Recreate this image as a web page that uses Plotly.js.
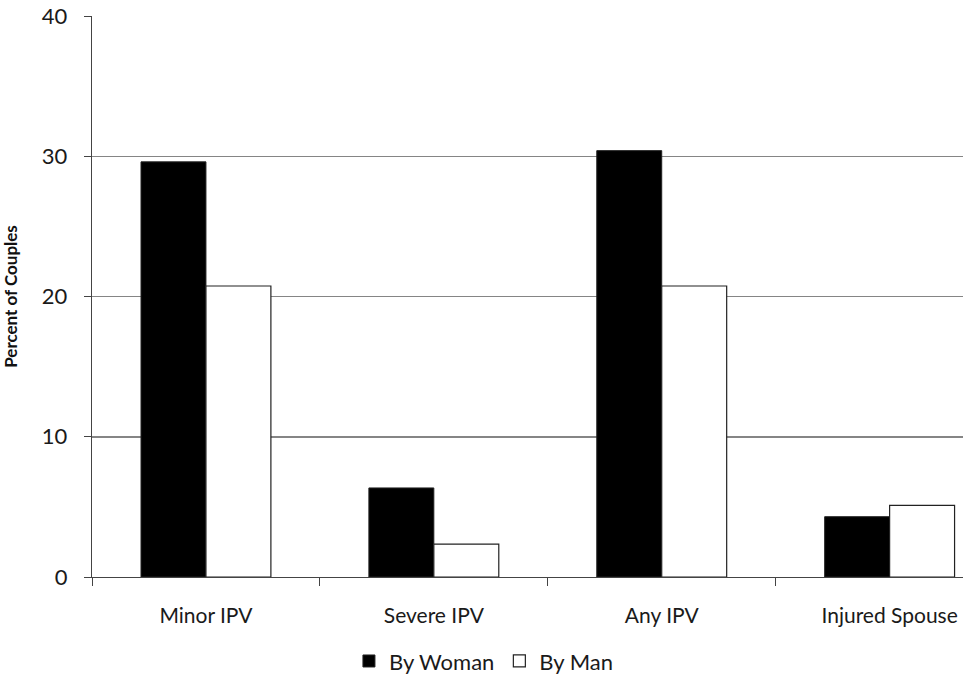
<!DOCTYPE html>
<html><head><meta charset="utf-8">
<script src="https://cdn.plot.ly/plotly-3.0.1.min.js"></script>
<style>html,body{margin:0;padding:0;background:#fff;overflow:hidden}</style>
</head><body>
<div id="chart" style="width:963px;height:676px"></div>
<script>
const categories = ["Minor IPV", "Severe IPV", "Any IPV", "Injured Spouse"];
const byWoman = [29.6, 6.35, 30.4, 4.3];
const byMan = [20.75, 2.35, 20.75, 5.1];
const yTicks = [0, 10, 20, 30, 40];

const fontFam = "Lato, 'Open Sans', sans-serif";
const traces = [
  {type: "bar", name: "By Woman", x: categories, y: byWoman,
   marker: {color: "#000000", line: {color: "#222", width: 1}}},
  {type: "bar", name: "By Man", x: categories, y: byMan,
   marker: {color: "#ffffff", line: {color: "#222", width: 1.2}}}
];
const layout = {
  width: 963, height: 676,
  margin: {l: 92, r: 0, t: 16, b: 99},
  paper_bgcolor: "#fff", plot_bgcolor: "#fff",
  barmode: "group", bargap: 0.43, bargroupgap: 0,
  font: {family: fontFam, color: "#1a1a1a", size: 21},
  xaxis: {
    type: "category", range: [-0.5, 3.322], automargin: false,
    showline: true, linecolor: "#444", linewidth: 1.2,
    ticks: "outside", tickson: "boundaries", ticklen: 8, tickcolor: "#444",
    tickfont: {size: 21, family: fontFam}, ticklabelstandoff: 20,
    showgrid: false, zeroline: false
  },
  yaxis: {
    range: [0, 40], tickvals: yTicks, ticktext: yTicks.map(String), automargin: false,
    showline: true, linecolor: "#444", linewidth: 1.2,
    ticks: "outside", ticklen: 7, tickcolor: "#444", ticklabelstandoff: 12,
    showgrid: true, gridcolor: "#858585", gridwidth: 1.5,
    zeroline: false,
    tickfont: {size: 22, family: fontFam},
    title: {text: "Percent of Couples", font: {size: 17, family: fontFam, weight: "bold", color: "#111"}, standoff: 47}
  },
  legend: {
    orientation: "h", x: 0.45, xanchor: "center",
    yref: "container", y: 0.053, yanchor: "top",
    font: {size: 22, family: fontFam}, itemwidth: 30, tracegroupgap: 0
  },
  showlegend: true
};
Plotly.newPlot("chart", traces, layout, {displayModeBar: false, staticPlot: true});
</script>
</body></html>
